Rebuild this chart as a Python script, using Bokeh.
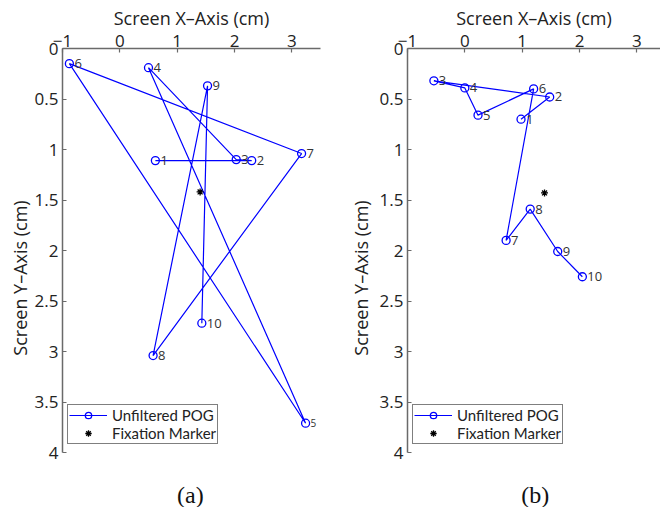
from bokeh.plotting import figure
from bokeh.models import (Range1d, FixedTicker, Legend, LegendItem,
                          ColumnDataSource, Label)
from bokeh.layouts import row
from bokeh.embed import file_html
from bokeh.resources import INLINE
from bokeh.core.properties import value

# ---------------- data ----------------
point_labels = ["1", "2", "3", "4", "5", "6", "7", "8", "9", "10"]

# panel (a)
pog_a_x = [0.62, 2.30, 2.03, 0.50, 3.24, -0.88, 3.17, 0.58, 1.53, 1.43]
pog_a_y = [1.11, 1.11, 1.10, 0.19, 3.71, 0.15, 1.04, 3.04, 0.37, 2.72]
fix_a_x = [1.40]
fix_a_y = [1.42]

# panel (b)
pog_b_x = [0.98, 1.48, -0.54, 0.00, 0.23, 1.20, 0.72, 1.14, 1.62, 2.05]
pog_b_y = [0.70, 0.48, 0.32, 0.39, 0.66, 0.40, 1.90, 1.59, 2.01, 2.26]
fix_b_x = [1.39]
fix_b_y = [1.43]

x_ticks = [-1, 0, 1, 2, 3]
x_tick_labels = ["\u22121", "0", "1", "2", "3"]
y_ticks = [0, 0.5, 1, 1.5, 2, 2.5, 3, 3.5, 4]
y_tick_labels = ["0", "0.5", "1", "1.5", "2", "2.5", "3", "3.5", "4"]

x_title = "Screen X\u2013Axis (cm)"
y_title = "Screen Y\u2013Axis (cm)"
legend_labels = ["Unfiltered POG", "Fixation Marker"]
captions = ["(a)", "(b)"]

# label font sizes (style)
label_sizes_a = ["13px"] * 10
label_sizes_a[4] = "10px"
label_sizes_b = ["13px"] * 10

FONT = "Open Sans"
LEG_FONT = "Lato"
AX_COL = "#6a6a6a"
TXT_COL = "#222222"
H = 507
TOP = 48
PX_PER_CM_X = 258 / 4.5
PX_PER_CM_Y = 404 / 4.0
Y_BOTTOM = (H - TOP) / PX_PER_CM_Y   # frame extends below the axis end (caption room)


def make_panel(px, py, fx, fy, sizes, caption, width, x_end, left_border,
               right_border, ylabel_standoff):
    p = figure(width=width, height=H,
               x_range=Range1d(-1, x_end), y_range=Range1d(Y_BOTTOM, 0),
               x_axis_location="above", y_axis_location="left",
               output_backend="svg", toolbar_location=None,
               min_border_left=left_border, min_border_right=right_border,
               min_border_top=TOP, min_border_bottom=0)
    p.grid.visible = False
    p.outline_line_color = None
    p.background_fill_color = "white"
    p.border_fill_color = "white"

    for ax, ticks, labels in ((p.xaxis[0], x_ticks, x_tick_labels),
                              (p.yaxis[0], y_ticks, y_tick_labels)):
        ax.ticker = FixedTicker(ticks=ticks)
        ax.major_label_overrides = {t: l for t, l in zip(ticks, labels)}
        ax.major_tick_in = 4
        ax.major_tick_out = 0
        ax.minor_tick_in = 0
        ax.minor_tick_out = 0
        ax.axis_line_color = AX_COL
        ax.axis_line_width = 1.5
        ax.major_tick_line_color = AX_COL
        ax.major_tick_line_width = 1.2
        ax.major_label_text_font = FONT
        ax.major_label_text_font_size = "17px"
        ax.major_label_text_color = TXT_COL
        ax.axis_label_text_font = FONT
        ax.axis_label_text_font_size = "18px"
        ax.axis_label_text_font_style = "normal"
        ax.axis_label_text_color = TXT_COL
    p.yaxis[0].bounds = (y_ticks[0], y_ticks[-1])
    p.xaxis[0].axis_label = x_title
    p.yaxis[0].axis_label = y_title
    p.xaxis[0].major_label_standoff = 2
    p.xaxis[0].axis_label_standoff = 2
    p.yaxis[0].major_label_standoff = 4
    p.yaxis[0].axis_label_standoff = ylabel_standoff

    src = ColumnDataSource(dict(x=px, y=py, t=point_labels, fs=sizes))
    ln = p.line("x", "y", source=src, line_color="blue", line_width=1.2)
    cr = p.scatter("x", "y", source=src, marker="circle", size=8,
                   fill_color=None, line_color="blue", line_width=1.3)
    fxr = p.scatter(fx, fy, marker="asterisk", size=7,
                    line_color="black", line_width=1.3)
    p.text("x", "y", text="t", source=src, x_offset=5,
           text_baseline="middle", text_align="left",
           text_font=value(FONT), text_font_size="fs", text_color="#333333")

    legend = Legend(items=[LegendItem(label=legend_labels[0], renderers=[ln, cr]),
                           LegendItem(label=legend_labels[1], renderers=[fxr])],
                    location=(5, 63), orientation="vertical",
                    border_line_color="black", border_line_width=1,
                    background_fill_color="white", background_fill_alpha=1,
                    label_text_font=LEG_FONT, label_text_font_size="15px",
                    label_text_color=TXT_COL,
                    glyph_width=38, glyph_height=16, label_height=16,
                    label_standoff=5, padding=1, spacing=0, margin=0)
    p.add_layout(legend)

    p.add_layout(Label(x=1.23, y=4.42, text=caption, text_align="center",
                       text_baseline="middle", text_font="Liberation Serif",
                       text_font_size="24px", text_color="#111111"))
    return p


pa = make_panel(pog_a_x, pog_a_y, fix_a_x, fix_a_y, label_sizes_a, captions[0],
                345, 3.5, 62, 25, 0)
pb = make_panel(pog_b_x, pog_b_y, fix_b_x, fix_b_y, label_sizes_b, captions[1],
                315, -1 + 253 / PX_PER_CM_X, 62, 0, 4)

layout = row(pa, pb)
open("out.html", "w").write(file_html(layout, INLINE))
